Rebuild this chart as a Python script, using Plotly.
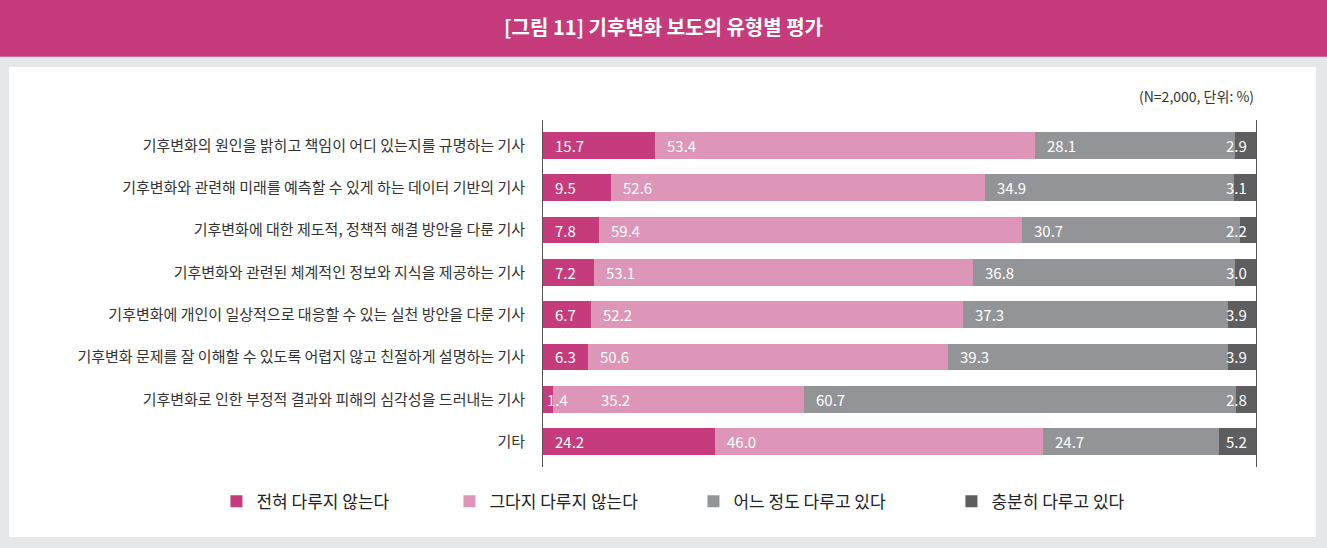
import plotly.graph_objects as go

# ---------------------------------------------------------------- data
categories = [
    "기후변화의 원인을 밝히고 책임이 어디 있는지를 규명하는 기사",
    "기후변화와 관련해 미래를 예측할 수 있게 하는 데이터 기반의 기사",
    "기후변화에 대한 제도적, 정책적 해결 방안을 다룬 기사",
    "기후변화와 관련된 체계적인 정보와 지식을 제공하는 기사",
    "기후변화에 개인이 일상적으로 대응할 수 있는 실천 방안을 다룬 기사",
    "기후변화 문제를 잘 이해할 수 있도록 어렵지 않고 친절하게 설명하는 기사",
    "기후변화로 인한 부정적 결과와 피해의 심각성을 드러내는 기사",
    "기타",
]
series_names = ["전혀 다루지 않는다", "그다지 다루지 않는다", "어느 정도 다루고 있다", "충분히 다루고 있다"]
not_at_all = [15.7, 9.5, 7.8, 7.2, 6.7, 6.3, 1.4, 24.2]
not_much = [53.4, 52.6, 59.4, 53.1, 52.2, 50.6, 35.2, 46.0]
somewhat = [28.1, 34.9, 30.7, 36.8, 37.3, 39.3, 60.7, 24.7]
fully = [2.9, 3.1, 2.2, 3.0, 3.9, 3.9, 2.8, 5.2]

series = [not_at_all, not_much, somewhat, fully]
colors = ["#C63B7B", "#DD96B8", "#939497", "#5E5E60"]
legend_widths = [188, 199, 213, 150]

FONT = "Noto Sans CJK KR"

# ---------------------------------------------------------------- figure
fig = go.Figure()
for name, vals, col, lw in zip(series_names, series, colors, legend_widths):
    fig.add_trace(go.Bar(
        y=categories, x=vals, name=name, orientation="h",
        marker=dict(color=col, line=dict(width=0)),
        legendwidth=lw,
        hoverinfo="x+name",
    ))

# value labels: first three series left-aligned at segment start,
# last series right-aligned at the bar end
annotations = []
for j, cat in enumerate(categories):
    start = 0.0
    narrow_before = False
    for i, vals in enumerate(series):
        v = vals[j]
        if i < 3:
            shift = 10
            if v < 4:            # too thin: hug the edge
                shift = 2
            elif narrow_before:  # make room for the previous label
                shift = 46
            annotations.append(dict(
                x=start, y=cat, xref="x", yref="y", text=f"{v:.1f}",
                xanchor="left", xshift=shift, showarrow=False,
                font=dict(family=FONT, size=15, color="white"),
            ))
            narrow_before = v < 4
        else:
            annotations.append(dict(
                x=start + v, y=cat, xref="x", yref="y", text=f"{v:.1f}",
                xanchor="right", xshift=-7, showarrow=False,
                font=dict(family=FONT, size=15, color="white"),
            ))
        start += v

# unit note
annotations.append(dict(
    x=1.0, y=1.07, xref="paper", yref="paper", text="(N=2,000, 단위: %)",
    xanchor="right", yanchor="middle", showarrow=False,
    font=dict(family=FONT, size=14, color="#333333"),
))

shapes = [
    # white panel on grey background
    dict(type="rect", xref="paper", yref="paper", layer="below",
         x0=-0.749, x1=1.084, y0=-0.202, y1=1.153,
         fillcolor="white", line=dict(width=0)),
    # title band
    dict(type="rect", xref="paper", yref="paper", layer="below",
         x0=-0.77, x1=1.11, y0=1.182, y1=1.36,
         fillcolor="#C63B7B", line=dict(width=0)),
]

fig.update_layout(
    width=1327, height=548,
    barmode="stack", bargap=0.37,
    margin=dict(l=543, r=71, t=120, b=81),
    paper_bgcolor="#E6E7E9", plot_bgcolor="white",
    font=dict(family=FONT, color="#333333"),
    title=dict(
        text="<b>[그림 11] 기후변화 보도의 유형별 평가</b>",
        x=0.5, xref="container", xanchor="center",
        y=1 - 28 / 548, yref="container", yanchor="middle",
        font=dict(family=FONT, size=20, color="white"),
    ),
    xaxis=dict(range=[0, 100.1001], visible=False, fixedrange=True),
    yaxis=dict(
        range=[7.6, -0.6], showline=True, mirror=True,
        linecolor="#555555", linewidth=1, showgrid=False,
        ticks="", ticklabelstandoff=14,
        tickfont=dict(family=FONT, size=15, color="#333333"),
        fixedrange=True,
    ),
    legend=dict(
        orientation="h", x=-0.458, xanchor="left", y=-0.10, yanchor="middle",
        traceorder="normal",
        font=dict(family=FONT, size=17, color="#222222"),
        bgcolor="rgba(0,0,0,0)",
    ),
    annotations=annotations,
    shapes=shapes,
    showlegend=True,
)

fig.write_html(
    "out.html",
    config={"displayModeBar": False},
    post_script="document.body.style.margin='0';",
)
